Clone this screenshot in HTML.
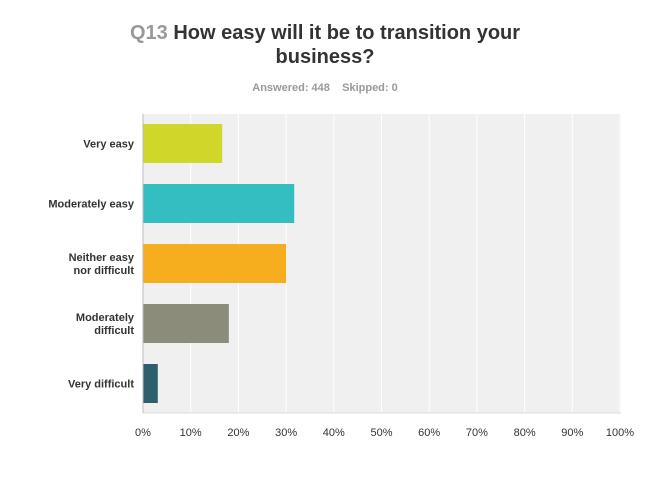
<!DOCTYPE html>
<html><head><meta charset="utf-8"><style>
body{margin:0;background:#fff;font-family:"Liberation Sans",Arial,sans-serif;}
</style></head><body>
<svg width="650" height="487" viewBox="0 0 650 487" style="display:block">
<text x="325" y="39" text-anchor="middle" font-size="20" font-weight="bold" fill="#333"><tspan fill="#999">Q13</tspan> How easy will it be to transition your</text>
<text x="325" y="63" text-anchor="middle" font-size="20" font-weight="bold" fill="#333">business?</text>
<text x="325" y="91" text-anchor="middle" font-size="11" font-weight="bold" fill="#999">Answered: 448 &#160;&#160; Skipped: 0</text>
<rect x="143" y="114" width="478" height="299" fill="#f0f0f0"/>
<g id="grid"></g><g id="bars"></g><g id="labels"></g><g id="ticks"></g>
<line x1="143" y1="114" x2="143" y2="413" stroke="#bbb"/>
<line x1="143" y1="413" x2="621" y2="413" stroke="#ddd"/>
</svg>
<script>
const categories=[["Very easy"],["Moderately easy"],["Neither easy","nor difficult"],["Moderately","difficult"],["Very difficult"]];
const values=[16.6,31.7,30.0,18.0,3.1];
const colors=["#d1d62a","#35bec1","#f6ae1e","#8c8c7b","#2e5f6c"];
const tickValues=[0,10,20,30,40,50,60,70,80,90,100];
const tickLabels=["0%","10%","20%","30%","40%","50%","60%","70%","80%","90%","100%"];
const NS="http://www.w3.org/2000/svg";
const x=v=>143+v*4.77;
const yc=i=>143.5+i*60;
function mk(t,a,p){const e=document.createElementNS(NS,t);for(const k in a)e.setAttribute(k,a[k]);p.appendChild(e);return e;}
const grid=document.getElementById('grid'),bars=document.getElementById('bars'),labels=document.getElementById('labels'),ticks=document.getElementById('ticks');
tickValues.forEach((v,i)=>{
 if(v>0){const g=mk('line',{x1:x(v),x2:x(v),y1:114,y2:413,stroke:'#fff'},grid);
 
 }
 const t=mk('text',{x:x(v),y:436,'text-anchor':'middle','font-size':11,fill:'#333'},ticks);
 t.textContent=tickLabels[i];
 
 
});
values.forEach((v,i)=>{
 const r=mk('rect',{x:143,y:yc(i)-19.5,width:x(v)-143,height:39,fill:colors[i]},bars);
 
 
 const lines=categories[i];
 const t=mk('text',{x:134,'text-anchor':'end','font-size':11,'font-weight':'bold',fill:'#333'},labels);
 
 
 lines.forEach((s,j)=>{const ts=mk('tspan',{x:134,y:yc(i)+4+(j-(lines.length-1)/2)*13},t);ts.textContent=s;});
});
</script>
</body></html>
